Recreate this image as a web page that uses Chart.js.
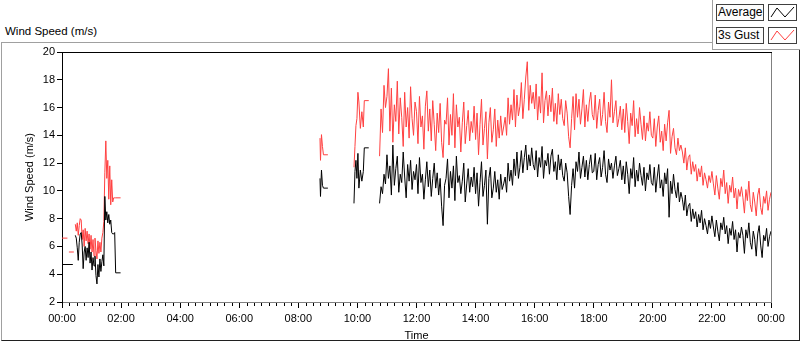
<!DOCTYPE html>
<html>
<head>
<meta charset="utf-8">
<script src="https://cdn.jsdelivr.net/npm/chart.js@4.4.1/dist/chart.umd.min.js"></script>
<style>
  html, body { margin: 0; padding: 0; background: #fff; }
  body { width: 800px; height: 342px; position: relative; overflow: hidden; font-family: "Liberation Sans", Arial, sans-serif; }
  #frame { position: absolute; left: 1px; top: 42px; width: 799px; height: 299px; box-sizing: border-box;
           border-left: 1px solid #a0a0a0; border-top: 1px solid #a0a0a0; border-right: 1px solid #202020; border-bottom: 1px solid #202020; }
  #title { position: absolute; left: 5px; top: 25px; font-size: 11.5px; color: #000; }
  #legend { position: absolute; left: 712px; top: 0; width: 88px; height: 50px; box-sizing: border-box; background: #fff;
            border-left: 1px solid #a0a0a0; border-bottom: 1px solid #a0a0a0; }
  .lbl { position: absolute; left: 3px; width: 48px; height: 17px; box-sizing: border-box; border: 1px solid #404040; background: #fcfcfc;
         font-size: 12px; line-height: 15px; padding-left: 1px; color: #000; }
  .sw { position: absolute; left: 55px; width: 29px; height: 17px; box-sizing: border-box; border: 1px solid #404040; background: #fff; }
  canvas { position: absolute; left: 0; top: 0; }
</style>
</head>
<body>
<div id="frame"></div>
<div id="title">Wind Speed (m/s)</div>
<div id="legend">
  <div class="lbl" style="top:4px">Average</div>
  <svg class="sw" style="top:4px" viewBox="0 0 27 15"><polyline points="2,12 8,3 16,12 25,2" fill="none" stroke="#000" stroke-width="1"/></svg>
  <div class="lbl" style="top:27px">3s Gust</div>
  <svg class="sw" style="top:27px" viewBox="0 0 27 15"><polyline points="2,12 8,3 16,12 25,2" fill="none" stroke="#ff4040" stroke-width="1"/></svg>
</div>
<canvas id="windChart" width="800" height="342"></canvas>
<script>
// Time in minutes after midnight, speeds in m/s

// early readings just after midnight
const avgDashT = [0, 22];
const avgDash = [4.7, 4.7];
const gustDashT = [0, 11, 12, 14, 24];
const gustDash = [6.6, 6.6, null, 5.6, 5.6];

// 00:27 - 02:00
const earlyT = [27, 29, 31, 33, 35, 37, 39, 41, 43, 45, 47, 49, 51, 53, 55, 57, 59, 61, 63, 65, 67, 69, 71, 73, 75,
  77, 79, 81, 83, 85, 87, 89, 91, 93, 95, 97, 99, 101, 103, 105, 107, 109, 119];
const avgEarly = [6.8, 6.6, 5.9, 5.0, 6.3, 6.9, 7.0, 6.1, 4.4, 5.6, 6.0, 5.0, 5.9, 5.2, 6.3, 4.8, 5.6, 4.3, 5.2, 4.6,
  5.3, 3.9, 3.3, 4.7, 3.8, 5.1, 4.2, 4.9, 5.4, 4.6, 9.6, 7.9, 8.5, 7.7, 8.3, 7.6, 7.9, 7.0, 6.9, 6.9, 7.0, 4.1, 4.1];
const gustEarly = [7.6, 7.1, 7.7, 6.8, 7.5, 8.0, 7.9, 6.5, 7.2, 6.0, 7.3, 6.4, 7.1, 6.2, 6.9, 5.8, 6.8, 5.6, 6.5, 5.3,
  6.6, 5.7, 5.1, 6.4, 5.5, 6.3, 5.6, 6.6, 7.0, 7.8, 11.3, 13.6, 10.9, 12.2, 9.4, 11.8, 9.0, 10.8, 9.2, 9.5, 9.5, 9.5, 9.5];

// around 08:45
const blipT = [524, 525, 527, 529, 531, 540];
const avgBlip = [10.9, 9.6, 11.5, 10.4, 10.2, 10.2];
const gustBlip = [13.8, 12.2, 14.05, 13.2, 12.6, 12.6];

// around 10:00
const tenT = [593, 595, 597, 599, 601, 603, 606, 609, 612, 614, 623];
const avgTen = [9.1, 11.4, 12.2, 10.9, 12.7, 10.2, 11.5, 10.7, 11.4, 13.1, 13.1];
const gustTen = [11.7, 13.2, 14.7, 15.2, 17.1, 16.4, 14.5, 15.7, 14.6, 16.5, 16.5];

// 10:45 - 24:00, every 3 minutes
const dayStart = 645;
const dayStep = 3;
const avgDay = [
  9.1, 10.3, 9.8, 11.2, 10.5,
  12.6, 10.9, 11.8, 9.7, 13.3, 10.4, 11.6, 12.5, 9.9, 11.2, 10.6, 12.8, 11.0, 9.5, 11.9, 10.7, 12.2, 10.1, 11.4, 10.8,
  11.9, 9.8, 12.4, 10.6, 11.2, 9.4, 10.8, 12.1, 10.3, 11.5, 9.6, 10.9, 12.0, 10.2, 11.3, 9.7, 10.9, 8.9, 7.5, 10.4,
  10.9, 12.3, 9.5, 11.4, 10.2, 11.8, 9.3, 12.5, 10.6, 11.1, 9.8, 10.7, 12.0, 9.2, 10.5, 11.6, 9.9, 11.0, 10.3, 11.7,
  9.8, 11.3, 8.9, 10.6, 12.1, 9.6, 10.4, 11.5, 7.6, 10.9, 11.7, 9.5, 10.2, 11.4, 9.9, 10.8, 9.4, 11.2, 10.1, 10.5,
  11.0, 9.9, 12.0, 10.7, 11.5, 10.4, 12.3, 11.1, 12.8, 10.9, 11.7, 12.9, 11.3, 12.4, 13.3, 11.5, 12.6, 11.8, 13.1, 11.9,
  11.5, 12.9, 11.0, 12.4, 11.7, 13.2, 10.9, 12.2, 11.8, 12.7, 11.2, 12.5, 13.0, 11.4, 12.1, 10.8, 12.6, 11.5, 12.3, 11.1,
  10.7, 12.0, 11.3, 9.6, 8.3, 10.4, 11.6, 10.2, 12.1, 11.4, 12.8, 10.9, 11.7, 12.5, 11.0, 12.2, 10.8, 11.9, 12.6, 11.3,
  11.4, 12.7, 10.8, 11.9, 12.4, 11.0, 11.7, 12.9, 11.2, 10.6, 12.3, 11.5, 12.0, 10.9, 11.8, 12.5, 11.1, 11.6, 12.2, 10.8,
  11.8, 10.5, 12.1, 11.2, 9.8, 11.6, 10.9, 12.4, 10.3, 11.5, 10.7, 12.0, 11.1, 10.4, 11.7, 10.0, 11.3, 10.8, 11.9, 10.6,
  10.4, 11.7, 9.9, 11.0, 11.9, 10.2, 10.8, 9.6, 11.3, 10.5, 11.6, 8.1, 10.7, 9.8, 11.2, 10.1, 9.5, 10.6, 9.2, 9.9,
  9.4, 8.6, 9.7, 8.2, 8.9, 9.1, 7.8, 8.7, 8.0, 8.5, 7.4, 8.3, 7.7, 8.6, 7.2, 8.0, 7.5, 6.9, 7.9, 7.3,
  8.2, 7.4, 6.7, 7.9, 7.1, 6.4, 7.7, 7.2, 8.1, 6.9, 7.5, 6.2, 7.3, 6.8, 7.8, 6.5, 7.2, 5.6, 7.0, 6.6,
  7.4, 6.8, 5.5, 7.2, 6.6, 7.7, 6.3, 5.8, 7.1, 6.5, 5.3, 6.9, 7.5, 6.1, 5.2, 6.8, 6.4, 7.3, 6.0, 6.7,
  7.1
];
const gustDay = [
  12.5, 15.9, 14.2, 17.6, 16.0,
  16.8, 18.8, 14.3, 17.4, 13.5, 16.2, 15.0, 17.9, 14.1, 16.7, 15.3, 13.2, 17.1, 14.6, 16.0, 13.8, 17.5, 15.2, 14.0, 16.4,
  15.7, 13.4, 16.8, 14.6, 15.4, 13.0, 16.1, 17.2, 14.3, 15.9, 13.6, 16.5, 14.8, 12.9, 15.6, 14.2, 16.3, 13.5, 12.4, 15.1,
  14.8, 16.7, 13.3, 15.5, 14.0, 17.0, 13.1, 16.2, 14.6, 15.3, 12.8, 14.9, 16.4, 13.4, 14.7, 15.8, 13.6, 15.0, 14.2, 16.1,
  13.7, 15.6, 12.6, 14.8, 16.6, 13.3, 14.5, 15.7, 12.3, 14.9, 16.0, 13.5, 14.4, 15.9, 13.2, 15.1, 13.8, 15.4, 14.0, 14.6,
  15.3, 14.0, 16.7, 14.8, 16.2, 15.1, 17.3, 14.6, 16.9, 15.4, 16.1, 17.8, 15.2, 16.6, 18.2, 19.3, 15.8, 17.6, 16.3, 17.1,
  15.9, 17.7, 15.1, 16.8, 15.6, 18.5, 14.9, 16.5, 17.2, 15.4, 16.9, 15.7, 17.4, 15.0, 16.3, 14.8, 17.0, 15.5, 16.6, 15.2,
  14.7, 16.5, 15.6, 13.9, 13.1, 15.2, 16.8, 14.4, 17.0, 15.3, 16.6, 14.8, 15.9, 17.3, 14.6, 16.2, 15.0, 16.4, 17.1, 15.5,
  15.1, 16.9, 14.5, 15.8, 16.6, 14.7, 15.5, 17.1, 15.0, 14.2, 16.4, 15.3, 18.0, 14.9, 15.7, 16.5, 14.6, 15.2, 16.1, 14.4,
  15.9, 14.2, 16.3, 15.0, 13.4, 15.6, 14.7, 16.5, 13.9, 15.2, 14.1, 16.0, 14.8, 13.7, 15.4, 13.6, 14.9, 14.3, 15.7, 14.0,
  13.8, 15.2, 13.2, 14.6, 15.4, 13.5, 14.3, 12.9, 14.8, 13.6, 14.9, 15.8, 12.7, 13.9, 14.5, 13.1, 12.6, 13.8, 12.9, 13.3,
  12.8, 12.0, 13.1, 11.5, 12.4, 12.6, 11.2, 12.1, 11.4, 11.9, 10.7, 11.6, 11.0, 11.8, 10.4, 11.3, 10.8, 10.2, 11.1, 10.6,
  11.4, 10.5, 9.7, 11.1, 10.2, 9.4, 10.9, 10.3, 11.5, 9.8, 10.6, 9.1, 10.4, 9.9, 11.0, 9.5, 10.2, 8.7, 10.1, 9.6,
  10.3, 9.5, 8.4, 10.1, 9.3, 10.7, 9.0, 8.5, 9.9, 9.2, 8.2, 9.7, 10.2, 8.8, 8.3, 9.6, 9.1, 10.0, 8.6, 9.4,
  9.9
];
const dayT = avgDay.map((_, i) => dayStart + i * dayStep);

const yTicks = [2, 4, 6, 8, 10, 12, 14, 16, 18, 20];

function toPoints(times, values) {
  return times.map((t, i) => ({ x: t, y: values[i] }));
}
const gap = t => ({ x: t, y: null });

const avgPoints = [
  ...toPoints(avgDashT, avgDash), gap(25),
  ...toPoints(earlyT, avgEarly), gap(300),
  ...toPoints(blipT, avgBlip), gap(570),
  ...toPoints(tenT, avgTen), gap(634),
  ...toPoints(dayT, avgDay)
];
const gustPoints = [
  ...toPoints(gustDashT, gustDash), gap(25),
  ...toPoints(earlyT, gustEarly), gap(300),
  ...toPoints(blipT, gustBlip), gap(570),
  ...toPoints(tenT, gustTen), gap(634),
  ...toPoints(dayT, gustDay)
];

const pad2 = n => String(n).padStart(2, '0');
const fmtTime = v => pad2(Math.floor(v / 60) % 24) + ':' + pad2(v % 60);

// chart area borders + minor ticks on time axis
const plotFrame = {
  id: 'plotFrame',
  afterDraw(chart) {
    const { ctx, chartArea: a, scales: { x } } = chart;
    ctx.save();
    ctx.lineWidth = 1;
    ctx.strokeStyle = '#000';
    ctx.beginPath();
    ctx.moveTo(a.left, a.top + 0.5);
    ctx.lineTo(a.right + 1, a.top + 0.5);
    ctx.stroke();
    ctx.strokeStyle = '#808080';
    ctx.beginPath();
    ctx.moveTo(Math.round(a.right) + 0.5, a.top + 1);
    ctx.lineTo(Math.round(a.right) + 0.5, a.bottom);
    ctx.stroke();
    ctx.strokeStyle = '#000';
    x.ticks.forEach(t => {
      if (t.value % 120 !== 0) {
        const px = Math.round(x.getPixelForValue(t.value)) + 0.5;
        ctx.beginPath();
        ctx.moveTo(px, a.bottom + 1);
        ctx.lineTo(px, a.bottom + 4);
        ctx.stroke();
      }
    });
    ctx.restore();
  }
};

const font = { family: '"Liberation Sans", Arial, sans-serif', size: 11 };

new Chart(document.getElementById('windChart').getContext('2d'), {
  type: 'line',
  data: {
    datasets: [
      { label: 'Average', data: avgPoints, borderColor: '#000000', borderWidth: 1, pointRadius: 0, tension: 0, spanGaps: false },
      { label: '3s Gust', data: gustPoints, borderColor: '#ff4040', borderWidth: 1, pointRadius: 0, tension: 0, spanGaps: false }
    ]
  },
  options: {
    responsive: false,
    animation: false,
    events: [],
    layout: { padding: { top: 52, right: 29, left: 0, bottom: 0 } },
    plugins: { legend: { display: false }, tooltip: { enabled: false } },
    scales: {
      x: {
        type: 'linear',
        min: 0,
        max: 1440,
        afterFit: s => { s.height = 40; },
        afterBuildTicks: s => { s.ticks = s.ticks.filter(t => t.value % 15 === 0); },
        ticks: {
          stepSize: 15,
          autoSkip: false,
          maxRotation: 0,
          color: '#000',
          font: font,
          padding: 4,
          callback: v => (v % 120 === 0 ? fmtTime(v) : '')
        },
        grid: {
          drawOnChartArea: false,
          drawTicks: true,
          tickLength: 6,
          color: c => (c.tick && c.tick.value % 120 === 0 ? '#000' : 'rgba(0,0,0,0)')
        },
        border: { display: true, color: '#808080' },
        title: { display: true, text: 'Time', color: '#000', font: font, padding: { top: 0, bottom: -1 } }
      },
      y: {
        min: 2,
        max: 20,
        afterFit: s => { s.width = 62; },
        afterBuildTicks: s => { s.ticks = yTicks.map(v => ({ value: v })); },
        ticks: { color: '#000', font: font, padding: 2 },
        grid: { drawOnChartArea: false, drawTicks: true, tickLength: 5, color: '#000' },
        border: { display: true, color: '#000' },
        title: { display: true, text: 'Wind Speed (m/s)', color: '#000', font: font, padding: { top: 23, bottom: 0 } }
      }
    }
  },
  plugins: [plotFrame]
});
</script>
</body>
</html>
